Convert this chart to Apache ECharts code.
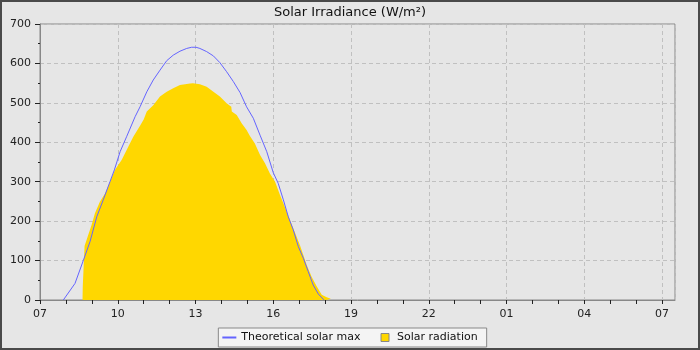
<!DOCTYPE html>
<html>
<head>
<meta charset="utf-8">
<script src="https://cdn.jsdelivr.net/npm/echarts@6/dist/echarts.min.js"></script>
<style>
  html, body { margin: 0; padding: 0; background: #e6e6e6; }
  #chart { width: 700px; height: 350px; }
</style>
</head>
<body>
<div id="chart"></div>
<script>
// hours since 07:00
var theoHours = [0.90, 1.35, 1.67, 1.93, 2.19, 2.44, 2.70, 2.87, 3.09, 3.34, 3.67, 3.86, 4.12, 4.37, 4.63, 4.89,
    5.14, 5.40, 5.66, 5.85, 6.02, 6.17, 6.43, 6.69, 6.94, 7.20, 7.46, 7.72, 7.97, 8.23, 8.49, 8.75,
    9.00, 9.19, 9.39, 9.58, 9.77, 9.97, 10.16, 10.35, 10.54, 10.74, 10.93, 10.96];
var theoValues = [0, 42, 100, 148, 211, 254, 300, 330, 376, 414, 465, 490, 528, 558, 583, 607,
    621, 631, 638, 641, 641, 638, 630, 619, 602, 579, 554, 526, 490, 461, 418, 376,
    323, 296, 254, 211, 178, 135, 106, 72, 38, 15, 2, 0];

var radHours = [1.64, 1.65, 1.70, 1.72, 1.86, 1.99, 2.12, 2.31, 2.51, 2.70, 2.89, 3.15, 3.41, 3.60, 3.86, 4.00,
    4.12, 4.37, 4.63, 4.89, 5.14, 5.40, 5.79, 5.90, 6.17, 6.43, 6.69, 6.94, 7.20, 7.38, 7.40, 7.59,
    7.78, 7.97, 8.10, 8.29, 8.49, 8.68, 8.87, 9.07, 9.26, 9.52, 9.77, 10.03, 10.29, 10.48, 10.68,
    10.87, 11.06, 11.22, 11.23];
var radValues = [0, 34, 34, 137, 165, 190, 220, 249, 270, 300, 330, 355, 389, 414, 442, 458,
    478, 494, 516, 528, 537, 545, 549, 550, 547, 541, 528, 516, 499, 490, 478, 469,
    448, 431, 416, 397, 368, 347, 321, 300, 266, 224, 182, 139, 89, 59, 34,
    13, 7, 3, 0];

var xTicks = [];
for (var h = 0; h <= 24; h++) xTicks.push(h);
var xLabels = [0, 3, 6, 9, 12, 15, 18, 21, 24];

function pair(xs, ys) {
    var out = [];
    for (var i = 0; i < xs.length; i++) out.push([xs[i], ys[i]]);
    return out;
}

var myChart = echarts.init(document.getElementById('chart'));

var option = {
    backgroundColor: '#e6e6e6',
    animation: false,
    textStyle: { fontFamily: 'DejaVu Sans' },
    title: {
        text: 'Solar Irradiance (W/m²)',
        left: 'center',
        top: 1,
        textStyle: { fontSize: 13, fontWeight: 'normal', color: '#111', fontFamily: 'DejaVu Sans' }
    },
    legend: {
        bottom: 3,
        left: 'center',
        padding: [4, 9, 4, 4],
        itemGap: 20,
        itemWidth: 14,
        itemHeight: 8,
        backgroundColor: '#f4f4f4',
        borderColor: '#888',
        borderWidth: 1,
        borderRadius: 0,
        textStyle: { fontSize: 11, color: '#111', fontFamily: 'DejaVu Sans' },
        data: [
            { name: 'Theoretical solar max', icon: 'path://M0,0H14V2H0Z' },
            { name: 'Solar radiation', icon: 'path://M0,0H8V8H0Z', itemStyle: { borderColor: '#888', borderWidth: 1 } }
        ]
    },
    grid: {
        left: 40, right: 25, top: 24, bottom: 50,
        show: true, backgroundColor: '#e6e6e6', borderColor: '#888', borderWidth: 1
    },
    xAxis: [
        {
            type: 'value',
            min: 0,
            max: 24.5,
            interval: 3,
            axisLine: { show: true, lineStyle: { color: '#888' } },
            axisTick: { show: true, customValues: xTicks, length: 4, lineStyle: { color: '#222' } },
            axisLabel: {
                customValues: xLabels,
                margin: 9, fontSize: 11, color: '#222',
                formatter: function (v) {
                    var hh = (7 + Math.round(v)) % 24;
                    return (hh < 10 ? '0' : '') + hh;
                }
            },
            splitLine: { show: false }
        },
        {
            // only draws the 3-hourly dashed grid
            type: 'value',
            position: 'bottom',
            min: 0,
            max: 24.5,
            interval: 3,
            axisLine: { show: false },
            axisTick: { show: false },
            axisLabel: { show: false },
            splitLine: { show: true, lineStyle: { color: '#c0c0c0', type: [4, 3] } }
        }
    ],
    yAxis: {
        type: 'value',
        min: 0,
        max: 700,
        interval: 100,
        axisLine: { show: true, lineStyle: { color: '#888' } },
        axisTick: { show: true, length: 5, lineStyle: { color: '#222' } },
        minorTick: { show: true, splitNumber: 2, length: 2, lineStyle: { color: '#222' } },
        axisLabel: { margin: 9, fontSize: 11, color: '#222' },
        splitLine: { show: true, lineStyle: { color: '#c0c0c0', type: [4, 3] } }
    },
    series: [
        {
            name: 'Solar radiation',
            type: 'line',
            symbol: 'none',
            color: '#ffd700',
            lineStyle: { width: 0 },
            areaStyle: { color: '#ffd700', opacity: 1 },
            data: pair(radHours, radValues),
            z: 2
        },
        {
            name: 'Theoretical solar max',
            type: 'line',
            symbol: 'none',
            color: '#6464ff',
            lineStyle: { width: 1, color: '#6464ff' },
            data: pair(theoHours, theoValues),
            z: 3
        }
    ],
    graphic: [
        {
            type: 'rect',
            shape: { x: 1, y: 1, width: 698, height: 348 },
            style: { fill: 'none', stroke: '#4a4a4a', lineWidth: 2 },
            silent: true,
            z: 100
        }
    ]
};

myChart.setOption(option);
</script>
</body>
</html>
